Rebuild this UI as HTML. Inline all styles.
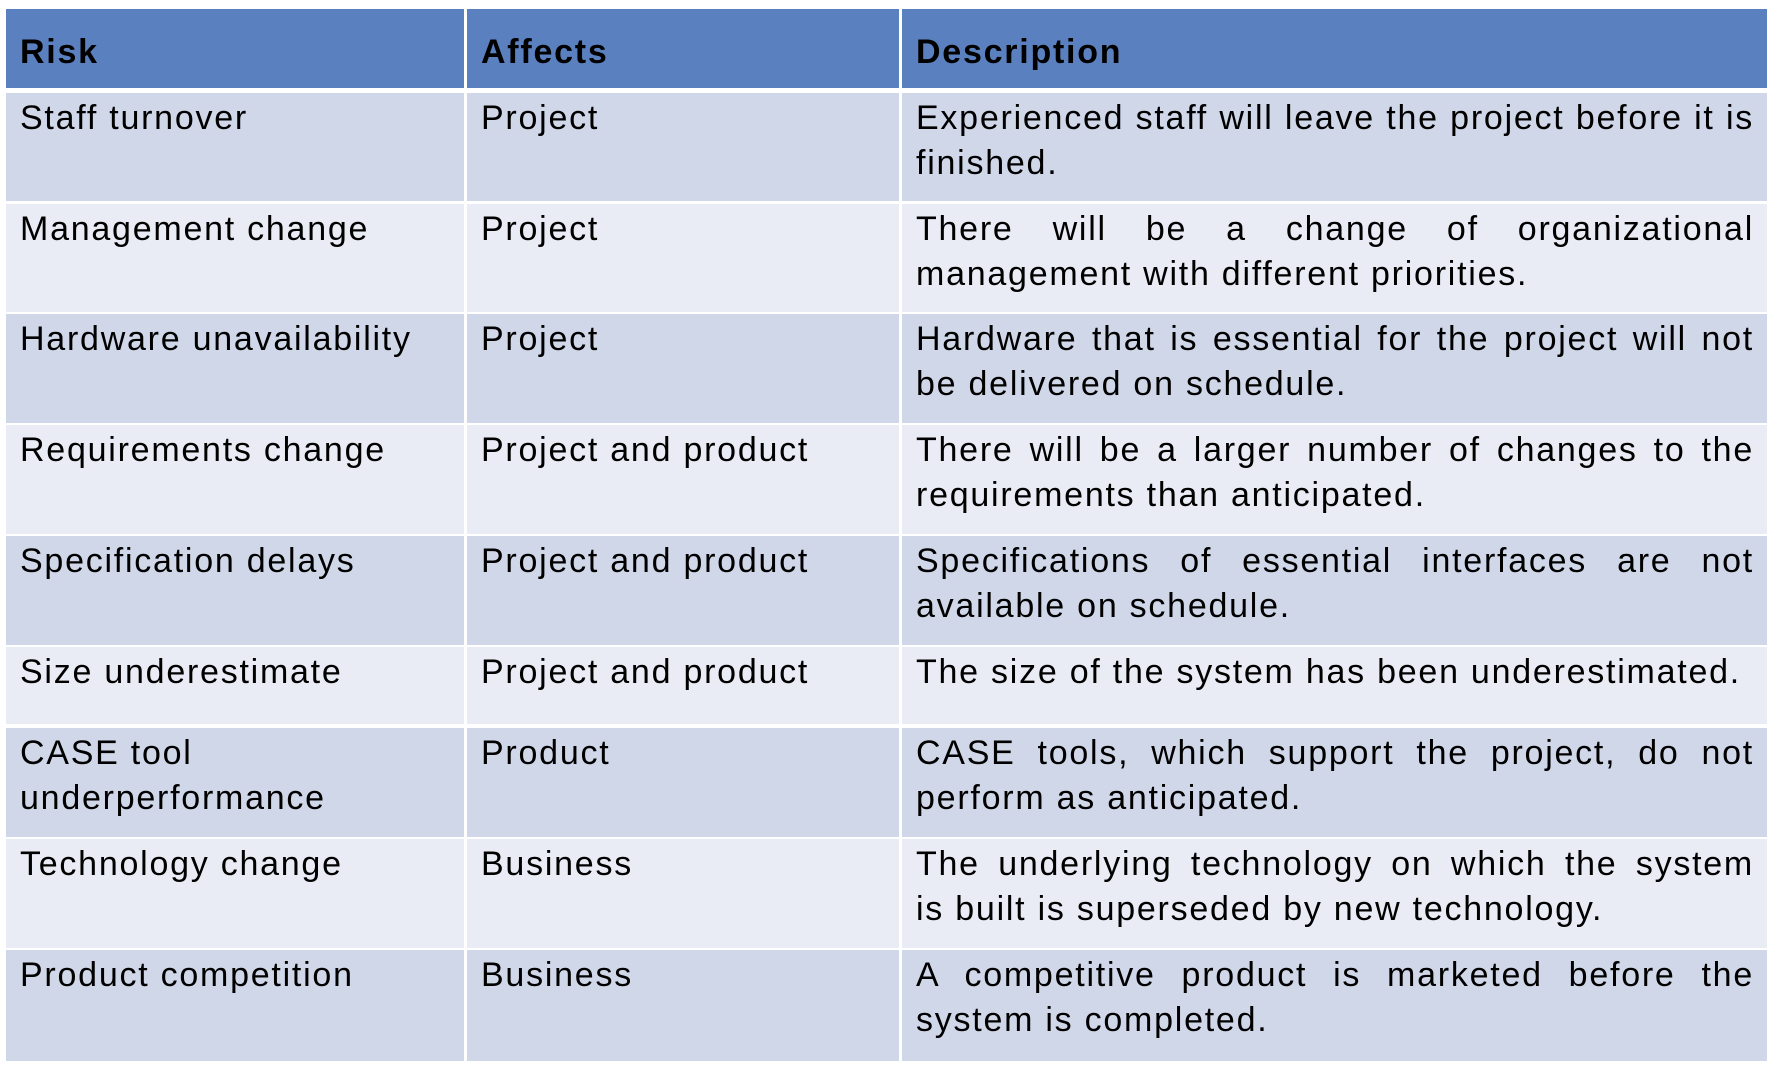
<!DOCTYPE html>
<html><head><meta charset="utf-8"><style>
body{margin:0;width:1773px;height:1071px;background:#fff;overflow:hidden;font-family:"Liberation Sans",Arial,sans-serif;color:#000}
.c{position:absolute;box-sizing:border-box;font-size:34px;line-height:45px;padding:3px 13px 0 14px;letter-spacing:1.75px}
.h{background:#5b80bf;font-weight:bold;display:flex;align-items:center;padding-top:8px}
.o{background:#d0d7e8}.e{background:#e9ecf4}
.d{text-align:justify}
</style></head><body>
<div id="t"></div>
<script>
const cols=[[6,458],[467,432],[902,865]];
const rowsY=[[9,79],[93,108],[204,108],[314,109],[425,109],[536,109],[647,77],[728,109],[839,109],[950,111]];
const header=["Risk","Affects","Description"];
const risks=["Staff turnover","Management change","Hardware unavailability","Requirements change","Specification delays","Size underestimate","CASE tool underperformance","Technology change","Product competition"];
const affects=["Project","Project","Project","Project and product","Project and product","Project and product","Product","Business","Business"];
const descs=["Experienced staff will leave the project before it is finished.","There will be a change of organizational management with different priorities.","Hardware that is essential for the project will not be delivered on schedule.","There will be a larger number of changes to the requirements than anticipated.","Specifications of essential interfaces are not available on schedule.","The size of the system has been underestimated.","CASE tools, which support the project, do not perform as anticipated.","The underlying technology on which the system is\u00A0built is superseded by new technology.","A competitive product is marketed before the system is completed."];
const t=document.getElementById('t');
function cell(r,c,txt,cls,name){
  const el=document.createElement('div');
  el.className='c '+cls;
  el.style.left=cols[c][0]+'px';el.style.width=cols[c][1]+'px';
  el.style.top=rowsY[r][0]+'px';el.style.height=rowsY[r][1]+'px';
  el.textContent=txt;
  
  
  t.appendChild(el);
}
header.forEach((h,i)=>cell(0,i,h,'h','header-'+h.toLowerCase()));
for(let i=0;i<risks.length;i++){
  const bg=i%2===0?'o':'e';
  cell(i+1,0,risks[i],bg,'risk-cell');
  cell(i+1,1,affects[i],bg,'affects-cell');
  cell(i+1,2,descs[i],bg+' d','description-cell');
}
</script>
</body></html>
